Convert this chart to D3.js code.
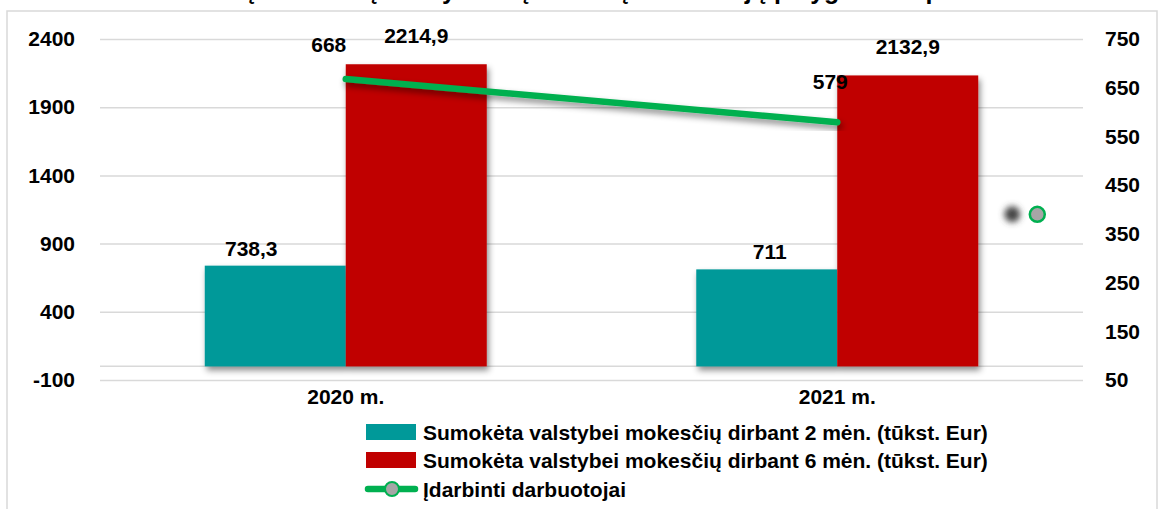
<!DOCTYPE html>
<html>
<head>
<meta charset="utf-8">
<script src="https://cdn.jsdelivr.net/npm/d3@7"></script>
<style>
  html, body { margin: 0; padding: 0; background: #fff; }
  svg { display: block; }
  text { font-family: "Liberation Sans", Arial, sans-serif; font-weight: bold; fill: #000; }
</style>
</head>
<body>
<svg id="chart" width="1160" height="509"></svg>
<script>
// ---- data ----
const title = "Sumokėtų mokesčių valstybei ir įdarbintų darbuotojų palyginimas per metus";
const categories = ["2020 m.", "2021 m."];
const taxes2m = [738.3, 711];
const taxes6m = [2214.9, 2132.9];
const employed = [668, 579];
const strayMarkerValue = [390];
const leftTicks = [-100, 400, 900, 1400, 1900, 2400];
const rightTicks = [50, 150, 250, 350, 450, 550, 650, 750];
const seriesNames = [
  "Sumokėta valstybei mokesčių dirbant 2 mėn. (tūkst. Eur)",
  "Sumokėta valstybei mokesčių dirbant 6 mėn. (tūkst. Eur)",
  "Įdarbinti darbuotojai"
];

// ---- layout ----
const svg = d3.select("#chart");
const plot = { left: 100, right: 1083, top: 39, bottom: 380 };
const colors = { teal: "#009999", red: "#C00000", green: "#00B050", grid: "#D9D9D9", marker: "#A6A6A6" };
const fmt = v => String(v).replace(".", ",");

const defs = svg.append("defs");
const sh = defs.append("filter").attr("id", "shadow").attr("x", "-20%").attr("y", "-20%").attr("width", "140%").attr("height", "140%");
sh.append("feDropShadow").attr("dx", 2).attr("dy", 4).attr("stdDeviation", 3).attr("flood-color", "#000").attr("flood-opacity", 0.45);
const blur = defs.append("filter").attr("id", "blur").attr("x", "-100%").attr("y", "-100%").attr("width", "300%").attr("height", "300%");
blur.append("feGaussianBlur").attr("stdDeviation", 3);

// frame
svg.append("rect").attr("x", 7).attr("y", 11).attr("width", 1150).attr("height", 540)
  .attr("fill", "none").attr("stroke", colors.grid).attr("stroke-width", 1.5);

// title (clipped at the top of the picture, as in the reference)
svg.append("text").attr("x", 590).attr("y", -1).attr("text-anchor", "middle")
  .style("font-size", "25px").text(title);

// scales
const yL = d3.scaleLinear().domain([-100, 2400]).range([plot.bottom, plot.top]);
const yR = d3.scaleLinear().domain([50, 750]).range([plot.bottom, plot.top]);
const x0 = d3.scaleBand().domain(categories).range([plot.left, plot.right]).paddingInner(0).paddingOuter(0);
const x1 = d3.scaleBand().domain([0, 1]).range([0, x0.bandwidth()]).paddingInner(0).paddingOuter(0.743);

// gridlines
const grid = svg.append("g").attr("transform", `translate(${plot.left},0)`)
  .call(d3.axisLeft(yL).tickValues(leftTicks).tickSize(-(plot.right - plot.left)).tickFormat(""));
grid.select(".domain").remove();
grid.selectAll("line").attr("stroke", colors.grid).attr("stroke-width", 1.5);

// zero baseline
svg.append("line").attr("x1", plot.left).attr("x2", plot.right)
  .attr("y1", yL(0)).attr("y2", yL(0)).attr("stroke", colors.grid).attr("stroke-width", 1.5);

// left axis labels
const axL = svg.append("g").attr("transform", `translate(${plot.left},0)`)
  .call(d3.axisLeft(yL).tickValues(leftTicks).tickSize(0).tickPadding(25).tickFormat(d => String(d)));
axL.select(".domain").remove();
axL.selectAll("text").style("font-size", "21px").attr("fill", "#000");

// right axis labels
const axR = svg.append("g").attr("transform", `translate(${plot.right},0)`)
  .call(d3.axisRight(yR).tickValues(rightTicks).tickSize(0).tickPadding(22).tickFormat(d => String(d)));
axR.select(".domain").remove();
axR.selectAll("text").style("font-size", "21px").attr("fill", "#000");

// x axis labels
const axX = svg.append("g").attr("transform", `translate(0,${plot.bottom})`)
  .call(d3.axisBottom(x0).tickSize(0).tickPadding(9));
axX.select(".domain").remove();
axX.selectAll("text").style("font-size", "21px").attr("fill", "#000");

// bars
const barData = [];
categories.forEach((c, i) => {
  barData.push({ c, k: 0, v: taxes2m[i], color: colors.teal });
  barData.push({ c, k: 1, v: taxes6m[i], color: colors.red });
});
svg.append("g").attr("filter", "url(#shadow)")
  .selectAll("rect").data(barData).join("rect")
  .attr("x", d => x0(d.c) + x1(d.k))
  .attr("width", x1.bandwidth())
  .attr("y", d => yL(d.v))
  .attr("height", d => yL(0) - yL(d.v))
  .attr("fill", d => d.color);

// line
const cx = c => x0(c) + x0.bandwidth() / 2;
const lineGen = d3.line().x((d, i) => cx(categories[i])).y(d => yR(d));
svg.append("path").datum(employed)
  .attr("d", lineGen).attr("fill", "none")
  .attr("stroke", colors.green).attr("stroke-width", 6.5).attr("stroke-linecap", "round")
  .attr("filter", "url(#shadow)");

// stray marker (as seen in the picture)
const mx = x0(categories[1]) + x0.bandwidth() * 0.907;
svg.append("circle").attr("cx", mx - 25).attr("cy", yR(strayMarkerValue[0]))
  .attr("r", 8).attr("fill", "#444").attr("filter", "url(#blur)");
svg.append("circle").attr("cx", mx).attr("cy", yR(strayMarkerValue[0]))
  .attr("r", 7.5).attr("fill", colors.marker).attr("stroke", colors.green).attr("stroke-width", 2.5);

// data labels
const lab = svg.append("g").style("font-size", "21px").attr("text-anchor", "middle");
const labelOffsets2 = [-24, 3];
categories.forEach((c, i) => {
  lab.append("text").attr("x", x0(c) + x1(0) + x1.bandwidth() / 2 + labelOffsets2[i])
    .attr("y", yL(taxes2m[i]) - 10).text(fmt(taxes2m[i]));
  lab.append("text").attr("x", x0(c) + x1(1) + x1.bandwidth() / 2)
    .attr("y", yL(taxes6m[i]) - 21).text(fmt(taxes6m[i]));
});
const lineLabelOffsets = [[-17, -27], [-7, -33]];
employed.forEach((v, i) => {
  lab.append("text").attr("x", cx(categories[i]) + lineLabelOffsets[i][0])
    .attr("y", yR(v) + lineLabelOffsets[i][1]).text(fmt(v));
});

// legend
const leg = svg.append("g");
const legX = 366, legY = [432, 460, 489];
leg.append("rect").attr("x", legX).attr("y", legY[0] - 8).attr("width", 50).attr("height", 16).attr("fill", colors.teal);
leg.append("rect").attr("x", legX).attr("y", legY[1] - 8).attr("width", 50).attr("height", 16).attr("fill", colors.red);
leg.append("line").attr("x1", legX + 2).attr("x2", legX + 49).attr("y1", legY[2]).attr("y2", legY[2])
  .attr("stroke", colors.green).attr("stroke-width", 6.5).attr("stroke-linecap", "round");
leg.append("circle").attr("cx", legX + 26).attr("cy", legY[2]).attr("r", 7)
  .attr("fill", colors.marker).attr("stroke", colors.green).attr("stroke-width", 2);
seriesNames.forEach((n, i) => {
  leg.append("text").attr("x", legX + 57).attr("y", legY[i]).attr("dy", "0.36em")
    .style("font-size", "21px").text(n);
});
</script>
</body>
</html>
